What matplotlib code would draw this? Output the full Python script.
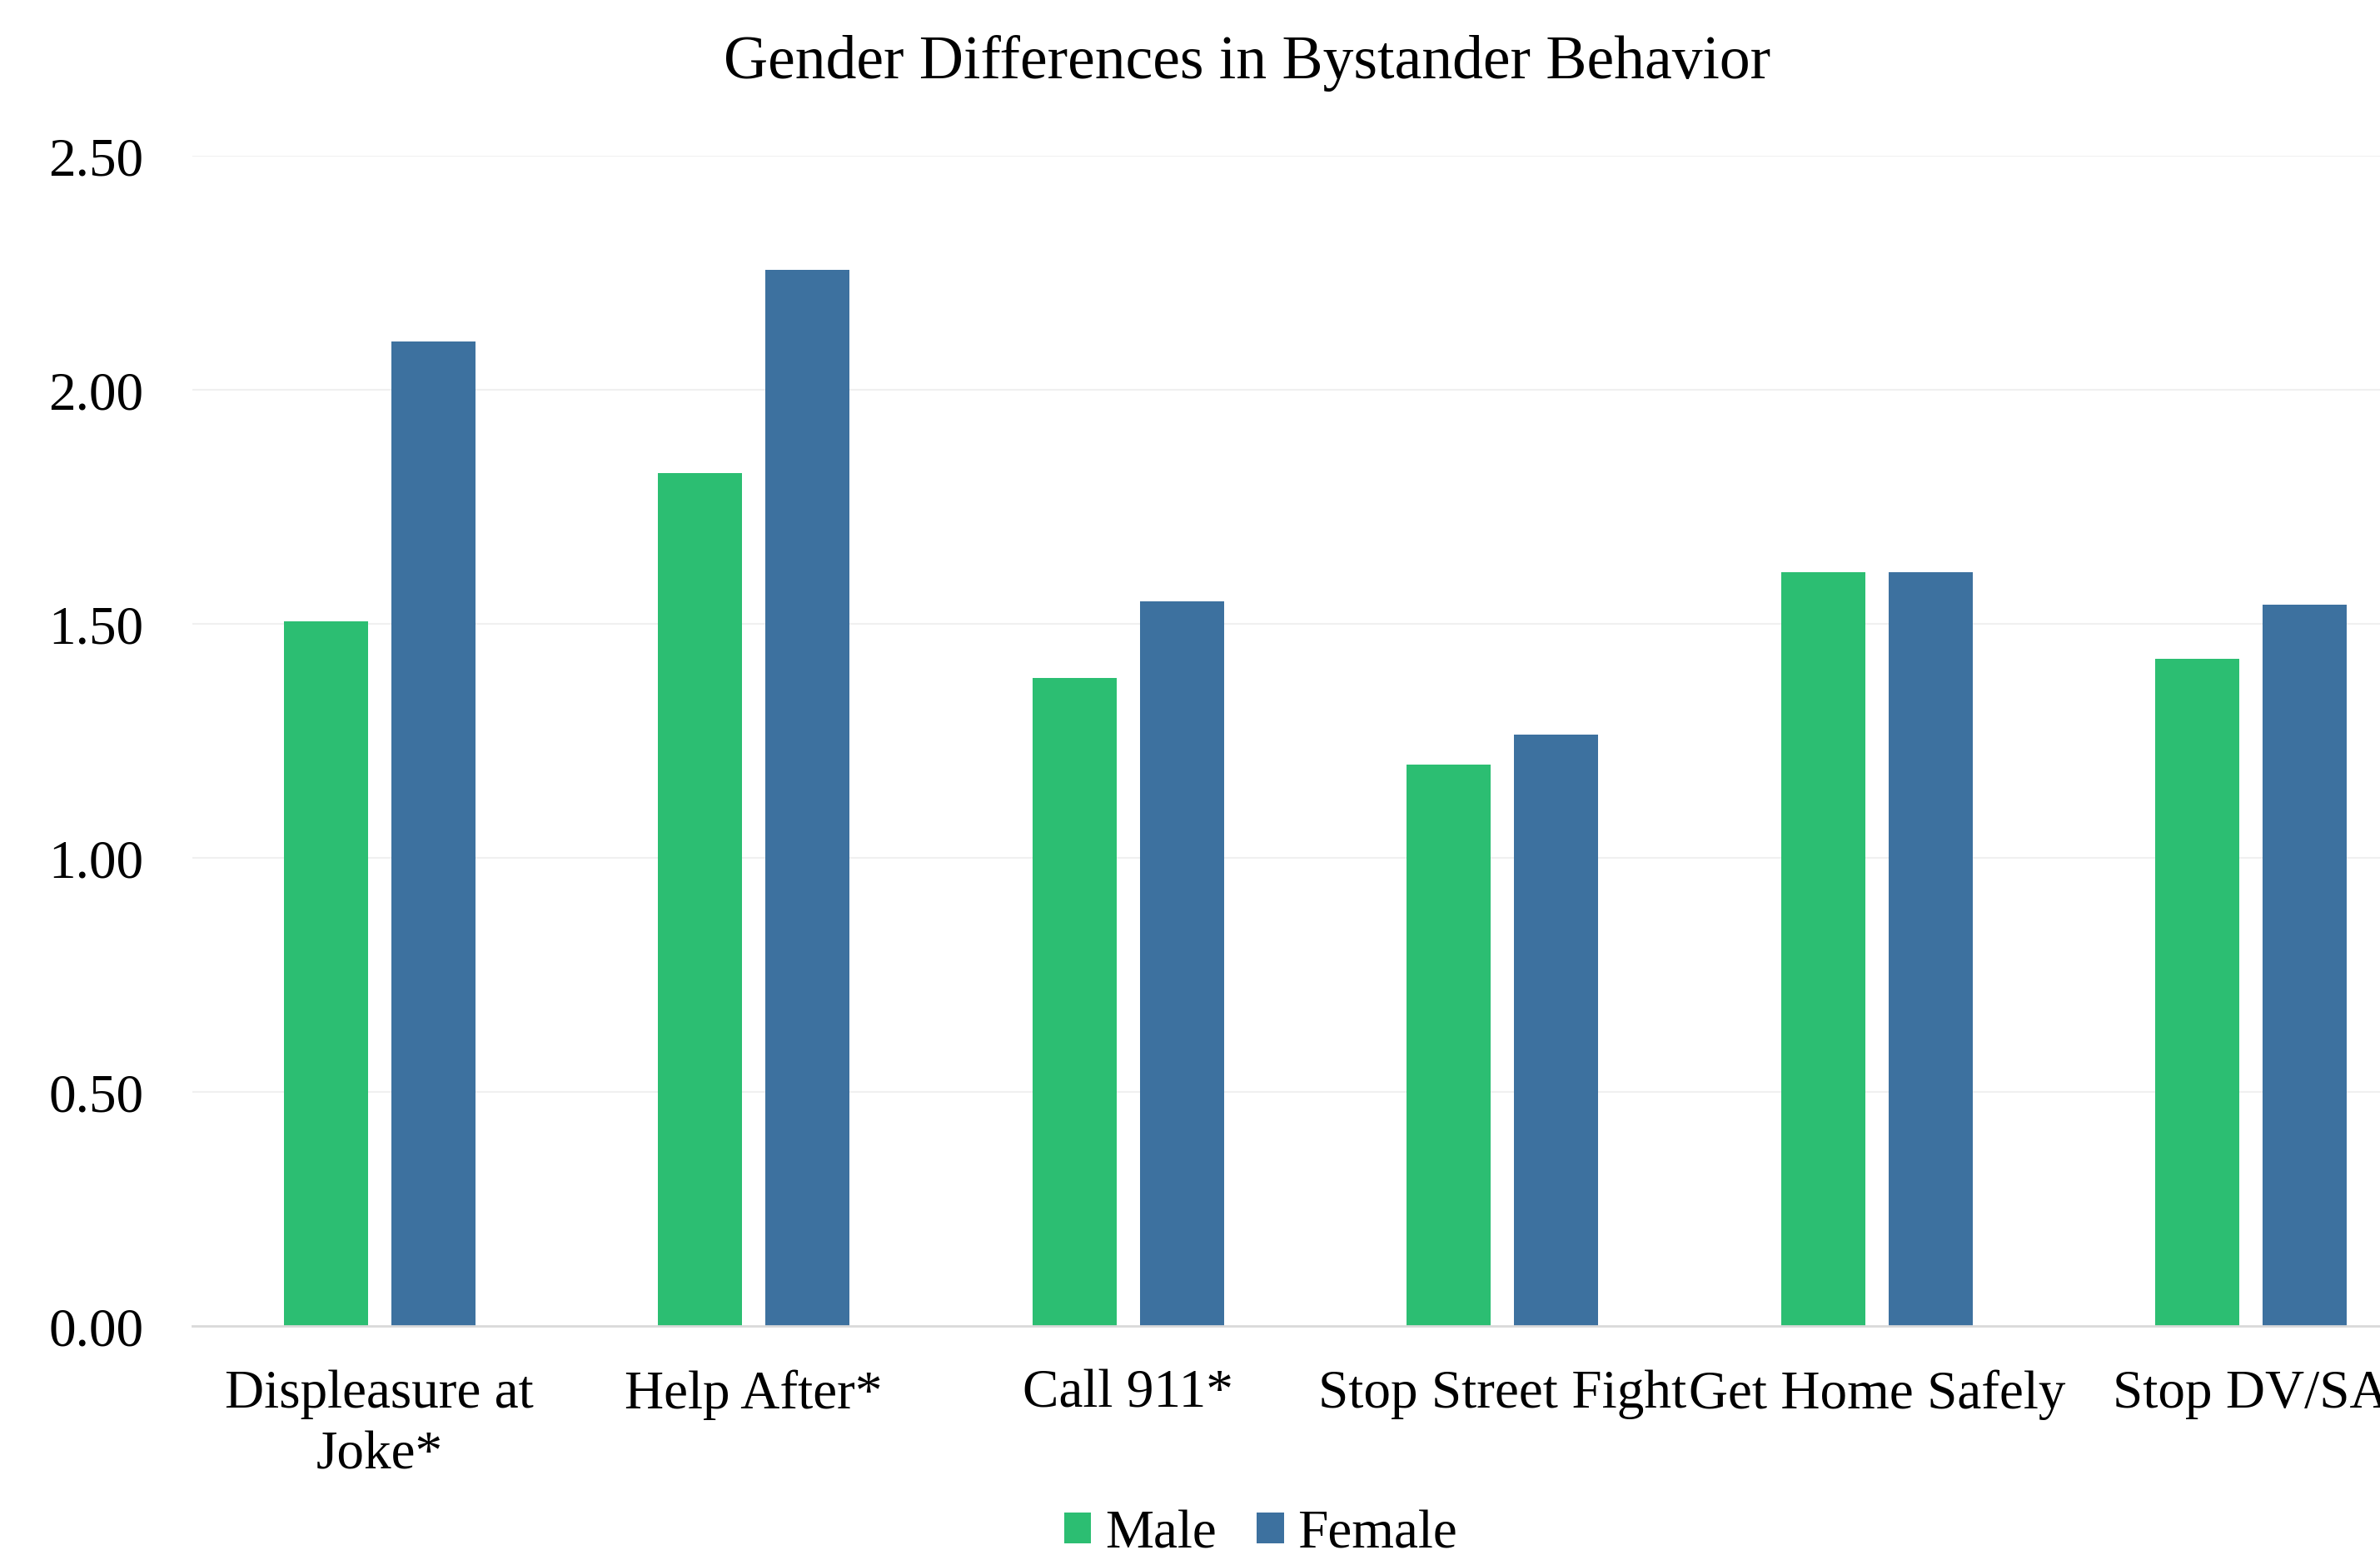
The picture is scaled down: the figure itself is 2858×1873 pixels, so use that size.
import matplotlib
matplotlib.use("Agg")
import matplotlib.pyplot as plt
import numpy as np
from matplotlib.ticker import FormatStrFormatter
from matplotlib.patches import Patch

categories = ["Displeasure at\nJoke*", "Help After*", "Call 911*",
              "Stop Street Fight", "Get Home Safely", "Stop DV/SA"]
male = [1.505, 1.822, 1.384, 1.199, 1.610, 1.426]
female = [2.103, 2.257, 1.548, 1.263, 1.610, 1.541]
series_names = ["Male", "Female"]
colors = ["#2CBE72", "#3D719F"]
yticks = [0.0, 0.5, 1.0, 1.5, 2.0, 2.5]
title = "Gender Differences in Bystander Behavior"

plt.rcParams['font.family'] = ['Liberation Serif', 'DejaVu Serif']

W, H = 2858, 1874
dpi = 200
fig = plt.figure(figsize=(W / dpi, H / dpi), dpi=dpi)
fig.patch.set_facecolor("white")

left = 231 / W
bottom = (H - 1593) / H
width = 2697 / W
height = 1405 / H
ax = fig.add_axes([left, bottom, width, height])

x = np.arange(len(categories))
bw = 0.225
off = 0.1435
ax.bar(x - off, male, bw, color=colors[0], zorder=3, linewidth=0)
ax.bar(x + off, female, bw, color=colors[1], zorder=3, linewidth=0)

ax.set_xlim(-0.5, len(categories) - 0.5)
ax.set_ylim(0, 2.5)
ax.set_yticks(yticks)
ax.yaxis.set_major_formatter(FormatStrFormatter('%.2f'))
ax.set_xticks(x)
ax.set_xticklabels(categories, linespacing=1.3)

for s in ["top", "right", "left"]:
    ax.spines[s].set_visible(False)
ax.spines["bottom"].set_color("#d9d9d9")
ax.spines["bottom"].set_linewidth(1.0)
ax.spines["bottom"].set_zorder(4)

ax.tick_params(axis='both', length=0, labelsize=23.5, colors='black')
ax.tick_params(axis='y', pad=21)
ax.tick_params(axis='x', pad=18.5)

for yv in yticks[1:]:
    ax.axhline(yv, color="#f0f0f0", linewidth=0.75, zorder=1)

fig.text(1498 / W, 1 - 76 / H, title, ha='center', va='center',
         fontsize=26.5, color='black')

handles = [Patch(facecolor=c, edgecolor='none', label=n) for c, n in zip(colors, series_names)]
fig.legend(handles=handles, loc='center', bbox_to_anchor=(1514 / W, 1 - 1843 / H),
           ncol=2, frameon=False, fontsize=23.5, handlelength=0.5, handleheight=0.5,
           handletextpad=0.25, columnspacing=0.75, borderpad=0, borderaxespad=0)

fig.savefig("out.png", dpi=dpi, facecolor="white")
